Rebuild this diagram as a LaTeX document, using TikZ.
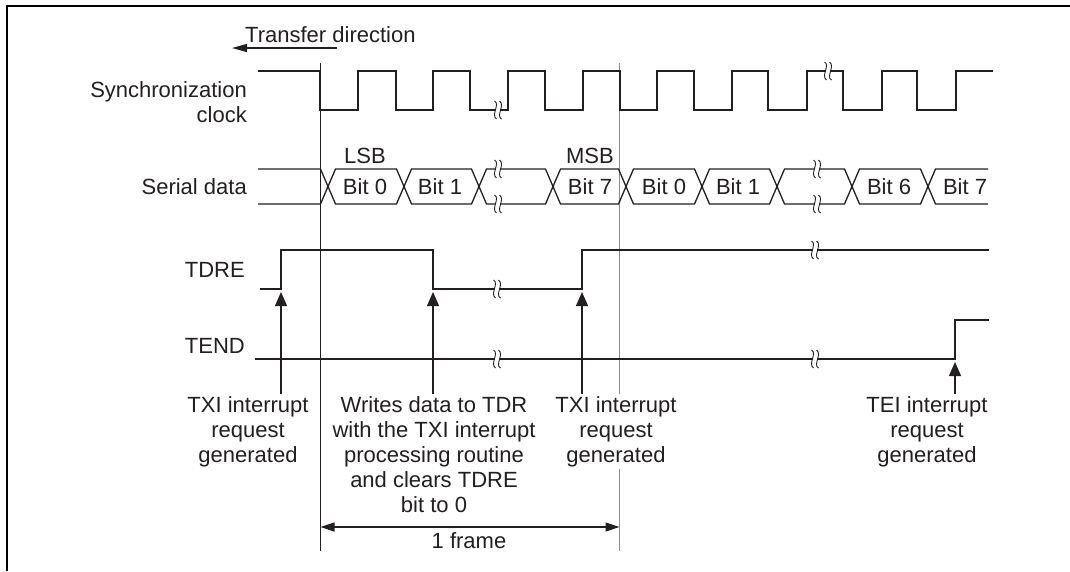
\documentclass[tikz,border=0pt]{standalone}
\usepackage{fontspec}
\setmainfont{Liberation Sans}
\usetikzlibrary{arrows.meta}
\definecolor{ink}{RGB}{35,31,32}
% break mark on a waveform
\newcommand{\wavebreak}[2]{%
  \begin{scope}[shift={(#1,#2)}]
    \fill[white] (-2.2,-3) rectangle (2.2,3);
    \draw[ink, line width=0.9pt] (-3.5,-9) .. controls (2.5,-6) and (-7.5,5) .. (-1.5,9);
    \draw[ink, line width=0.9pt] (1.5,-9) .. controls (7.5,-5) and (-2.5,6) .. (3.5,9);
  \end{scope}}

\begin{document}
\begin{tikzpicture}[
    x=1pt, y=-1pt,
    font=\fontsize{22}{25}\selectfont,
    every node/.style={text=ink},
    wave/.style={
        draw=ink,
        line width=1.3pt
    },
    sig/.style={
        anchor=base east,
        align=right,
        inner sep=0pt
    },
    note/.style={
        anchor=base,
        align=center,
        fill=white,
        inner sep=2pt
    },
    req/.style={
        draw=ink, line width=1.2pt, -{Triangle[length=14pt,width=12pt]}
    },
    dim/.style={
        draw=ink, line width=1.2pt, {Triangle[length=14pt,width=9pt]}-{Triangle[length=14pt,width=9pt]}
    }
]
\useasboundingbox (0,0) rectangle (1070,571);

% Frame
\draw[line width=2.5pt] (7,571) -- (7,6) -- (1070,6);

% Frame limits
\draw[ink, line width=1pt] (320.5,63) -- (320.5,551);
\draw[black!45, line width=1.6pt] (619.5,63) -- (619.5,551);

% Signal names
\node [anchor=base west, inner sep=0pt] (dir) at (245,42) {Transfer direction};
\coordinate (dira) at (337,48);
\coordinate (dirb) at (232,48);
\draw [ink, line width=1.2pt, -{Triangle[length=15pt,width=8pt]}] (dira) -- (dirb);

\node [sig] (clk) at (247,122) {Synchronization\\clock};
\node [sig] (ser) at (247,194) {Serial data};
\node [sig] (tdre) at (245,277) {TDRE};
\node [sig] (tend) at (245,353) {TEND};

% Clock
\draw [wave] (258,71) -- (320,71) -- (320,110) -- (358,110) -- (358,71) -- (396,71) -- (396,110)
  -- (433,110) -- (433,71) -- (470,71) -- (470,110) -- (508,110) -- (508,71) -- (545,71)
  -- (545,110) -- (583,110) -- (583,71) -- (620,71) -- (620,110) -- (657,110) -- (657,71)
  -- (694,71) -- (694,110) -- (732,110) -- (732,71) -- (768,71) -- (768,110) -- (807,110)
  -- (807,71) -- (843,71) -- (843,110) -- (882,110) -- (882,71) -- (917,71) -- (917,110)
  -- (956,110) -- (956,71) -- (993,71);
\wavebreak{498}{110}
\wavebreak{828}{71}

% Serial data
\draw [wave] (258,169) -- (320.5,169) -- (328,186.5) -- (320.5,204) -- (258,204);
\foreach \a/\b in {328/404, 404/479, 479/553, 553/626, 626/702, 702/777, 777/852, 852/928}
  \draw [wave] (\a+7.5,169) -- (\b-7.5,169) -- (\b,186.5) -- (\b-7.5,204) -- (\a+7.5,204) -- (\a,186.5) -- cycle;
\draw [wave] (988,169) -- (935.5,169) -- (928,186.5) -- (935.5,204) -- (988,204);
\wavebreak{498}{169}
\wavebreak{498}{204}
\wavebreak{817}{169}
\wavebreak{817}{204}

\node [anchor=base] (lsb) at (365,163) {LSB};
\node [anchor=base] (msb) at (590,163) {MSB};
\node [anchor=base] (bit0a) at (365,194) {Bit 0};
\node [anchor=base] (bit1a) at (440,194) {Bit 1};
\node [anchor=base] (bit7a) at (590,194) {Bit 7};
\node [anchor=base] (bit0b) at (664,194) {Bit 0};
\node [anchor=base] (bit1b) at (738,194) {Bit 1};
\node [anchor=base] (bit6b) at (889,194) {Bit 6};
\node [anchor=base] (bit7b) at (965,194) {Bit 7};

% TDRE and TEND
\draw [wave] (260,289) -- (281,289) -- (281,250) -- (433,250) -- (433,289) -- (582,289)
  -- (582,250) -- (989,250);
\wavebreak{497}{289}
\wavebreak{815}{250}
\draw [wave] (255,359) -- (955,359) -- (955,320) -- (989,320);
\wavebreak{497}{359}
\wavebreak{815}{359}

% Notes
\node [note] (txia) at (248,462) {TXI interrupt\\request\\generated};
\node [note] (wrt) at (434,512) {Writes data to TDR\\with the TXI interrupt\\processing routine\\and clears TDRE\\bit to 0};
\node [note] (txib) at (616,462) {TXI interrupt\\request\\generated};
\node [note] (tei) at (927,462) {TEI interrupt\\request\\generated};

% Arrows
\coordinate (up1) at (281,292);
\coordinate (up2) at (433,292);
\coordinate (up3) at (582,292);
\coordinate (up4) at (955,362);
\draw [req] (txia.north -| up1) -- (up1);
\draw [req] (wrt.north -| up2) -- (up2);
\draw [req] (txib.north -| up3) -- (up3);
\draw [req] (tei.north -| up4) -- (up4);

\coordinate (fa) at (320.5,527);
\coordinate (fb) at (619.5,527);
\draw [dim] (fa) -- (fb);
\node [anchor=base] (frame) at (469,548) {1 frame};

\end{tikzpicture}
\end{document}
